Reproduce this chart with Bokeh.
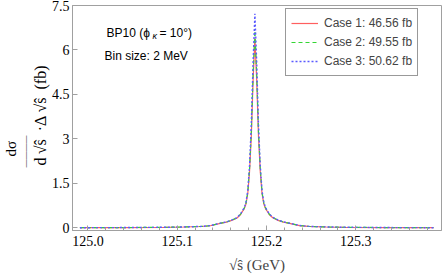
from bokeh.plotting import figure
from bokeh.models import Range1d, FixedTicker, Label, Legend, LegendItem, Title
from bokeh.embed import file_html
from bokeh.resources import INLINE

# sqrt(s-hat) in GeV (bin centres, 2 MeV bins near the peak)
energy = [124.991, 125.037, 125.087, 125.107, 125.127, 125.137, 125.147, 125.155,
          125.161, 125.167, 125.171, 125.173, 125.175, 125.177, 125.179, 125.181,
          125.183, 125.185, 125.187, 125.189, 125.191, 125.193, 125.195, 125.197,
          125.199, 125.201, 125.203, 125.207, 125.213, 125.219, 125.227, 125.237,
          125.247, 125.267, 125.287, 125.337, 125.387]

case1 = [0.004, 0.008, 0.018, 0.028, 0.045, 0.070, 0.140, 0.190, 0.250, 0.330,
         0.450, 0.550, 0.640, 0.800, 1.150, 1.900, 3.100, 5.000, 6.400, 5.000,
         3.100, 1.900, 1.150, 0.800, 0.640, 0.550, 0.450, 0.340, 0.250, 0.190,
         0.140, 0.075, 0.046, 0.028, 0.018, 0.008, 0.004]
case2 = [0.004, 0.008, 0.019, 0.029, 0.047, 0.072, 0.145, 0.195, 0.258, 0.340,
         0.465, 0.565, 0.660, 0.830, 1.200, 2.000, 3.250, 5.200, 6.650, 5.200,
         3.250, 2.000, 1.200, 0.830, 0.660, 0.565, 0.465, 0.350, 0.258, 0.195,
         0.145, 0.078, 0.048, 0.029, 0.019, 0.008, 0.004]
case3 = [0.004, 0.009, 0.019, 0.030, 0.048, 0.074, 0.148, 0.200, 0.262, 0.345,
         0.475, 0.575, 0.675, 0.860, 1.250, 2.100, 3.500, 5.600, 7.220, 5.600,
         3.500, 2.100, 1.250, 0.860, 0.675, 0.575, 0.475, 0.355, 0.262, 0.200,
         0.148, 0.080, 0.049, 0.030, 0.019, 0.009, 0.004]

legend_labels = ["Case 1: 46.56 fb", "Case 2: 49.55 fb", "Case 3: 50.62 fb"]
x_ticks = [125.0, 125.1, 125.2, 125.3]
y_ticks = [0, 1.5, 3, 4.5, 6, 7.5]
y_tick_labels = ["0", "1.5", "3", "4.5", "6", "7.5"]

SERIF = "Liberation Serif"
SANS = "Liberation Sans"
FRAME = "#a0a0a0"

p = figure(width=442, height=280, output_backend="svg", toolbar_location=None,
           x_range=Range1d(124.9827, 125.396), y_range=Range1d(-0.09, 7.5),
           min_border_left=71, min_border_right=1, min_border_top=5,
           min_border_bottom=50)
p.xgrid.visible = False
p.ygrid.visible = False
p.outline_line_color = FRAME
p.background_fill_color = "white"

minor_x = [round(124.98 + 0.02 * i, 2) for i in range(22)]
p.xaxis.ticker = FixedTicker(ticks=x_ticks, minor_ticks=minor_x)
p.yaxis.ticker = FixedTicker(ticks=y_ticks)
p.yaxis.major_label_overrides = {t: s for t, s in zip(y_ticks, y_tick_labels)}
p.xaxis.major_label_overrides = {t: f"{t:.1f}" for t in x_ticks}

for ax in (p.xaxis[0], p.yaxis[0]):
    ax.axis_line_color = FRAME
    ax.major_tick_line_color = FRAME
    ax.minor_tick_line_color = FRAME
    ax.major_tick_in = 5
    ax.major_tick_out = 0
    ax.minor_tick_in = 3
    ax.minor_tick_out = 0
    ax.major_label_text_font = SERIF
    ax.major_label_text_font_size = "14px"
    ax.major_label_text_color = "black"
p.yaxis.minor_tick_line_color = None
p.yaxis.major_label_standoff = 3
p.xaxis.major_label_standoff = 5

p.xaxis.axis_label = "\u221a\u015d (GeV)"
p.xaxis.axis_label_text_font = SERIF
p.xaxis.axis_label_text_font_style = "normal"
p.xaxis.axis_label_text_font_size = "15px"
p.xaxis.axis_label_standoff = 8

# y-axis label built as a fraction from stacked titles in the left panel
def ytitle(text, size, offset, standoff):
    p.add_layout(Title(text=text, align="left", offset=offset, standoff=standoff,
                       text_font=SERIF, text_font_size=size,
                       text_font_style="normal", text_color="black"), "left")

ytitle("d\u2009\u221a\u015d\u2002\u00b7\u0394\u2009\u221a\u015d\u2002(fb)", "16px", 65, 0)
ytitle("\u2014\u2014\u2014\u2014", "8px", 63, 0)
ytitle("d\u03c3", "15px", 74, 0)

r1 = p.line(energy, case1, line_color="#ff5f5f", line_width=1.2)
r2 = p.line(energy, case2, line_color="#33d633", line_width=1.2, line_dash="4 3")
r3 = p.line(energy, case3, line_color="#5a5aff", line_width=1.4, line_dash="2 2")

legend = Legend(items=[LegendItem(label=legend_labels[0], renderers=[r1]),
                       LegendItem(label=legend_labels[1], renderers=[r2]),
                       LegendItem(label=legend_labels[2], renderers=[r3])],
                location=(213, 154))
legend.glyph_width = 27
legend.glyph_height = 18
legend.label_height = 18
legend.label_standoff = 6
legend.padding = 5
legend.spacing = 1
legend.margin = 0
legend.border_line_color = "#333333"
legend.border_line_width = 1
legend.label_text_font = SANS
legend.label_text_font_size = "12px"
legend.background_fill_alpha = 1
p.add_layout(legend)

def lab(text, x, y, size="12px", style="normal"):
    p.add_layout(Label(x=x, y=y, x_units="screen", y_units="screen", text=text,
                       text_font=SANS, text_font_size=size,
                       text_align="left", text_baseline="middle",
                       text_font_style=style, text_color="black"))

# annotation texts (frame-relative px)
lab("BP10 (\u03d5", 34, 198)
lab("\u03ba", 80, 195, size="9px", style="italic")
lab("= 10\u00b0)", 87, 198)
lab("Bin size: 2 MeV", 32, 175)

open("out.html", "w").write(file_html(p, INLINE))
